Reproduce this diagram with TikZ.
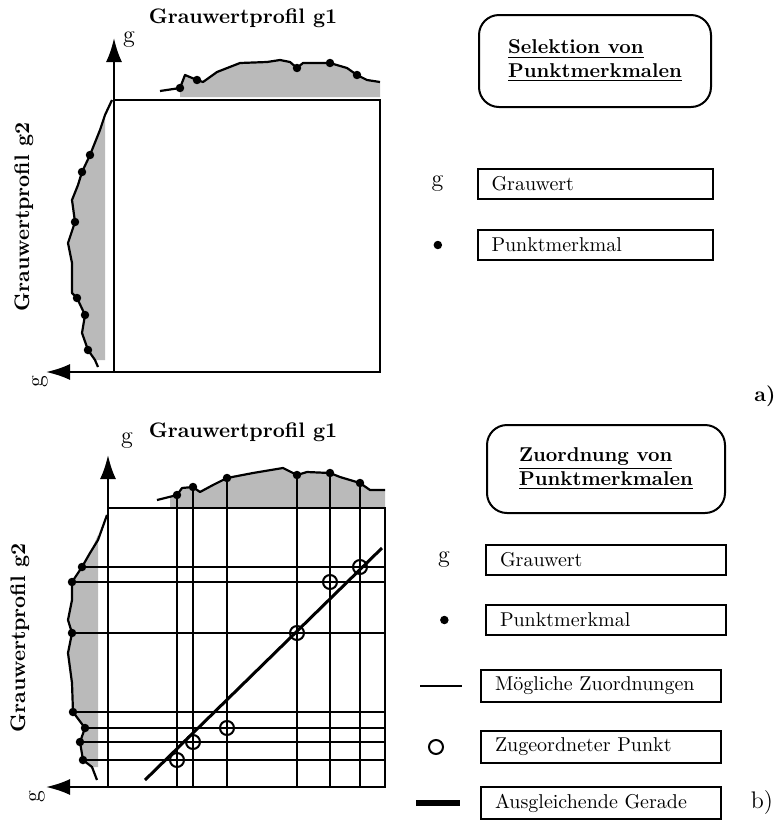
\documentclass[tikz,border=0pt]{standalone}
\usetikzlibrary{positioning,arrows.meta}
\newcommand{\grayAxes}{%%
  %% The frame and the two grey value axes.
  \draw[frameStyle] (origin) rectangle (corner);
  \draw[axisStyle] (origin) -- (yend);
  \draw[axisStyle] (origin -| corner) -- (xend);
}
%% Profile outlines, each starting with a line-to.
\newcommand{\topPathA}{-- (180,88) -- (185,75) -- (197,80) -- (203,82)
  -- (217,72) -- (240,63) -- (267,62) -- (280,60) -- (290,62) -- (297,68)
  -- (303,63) -- (330,63) -- (347,68) -- (357,75) -- (367,80) -- (380,82)}
\newcommand{\leftPathA}{-- (105,115) -- (100,130) -- (92,150) -- (90,155)
  -- (82,172) -- (78,185) -- (72,200) -- (75,222) -- (68,243) -- (72,263)
  -- (72,293) -- (77,298) -- (85,315) -- (82,333) -- (88,350) -- (95,360)}
\newcommand{\topPathB}{-- (t1) -- (182,488) -- (t2) -- (200,492) -- (213,485)
  -- (t3) -- (253,473) -- (283,468) -- (t4) -- (307,472) -- (t5) -- (340,477)
  -- (t6) -- (370,490) -- (385,490)}
\newcommand{\leftPathB}{-- (90,553) -- (l1) -- (l2) -- (72,600) -- (68,620)
  -- (l3) -- (68,653) -- (72,683) -- (l4) -- (l5) -- (l6) -- (l7) -- (92,767)}

\begin{document}
\begin{tikzpicture}[x=0.5pt,y=-0.5pt,%%
  axisStyle/.style={-{Latex[length=12pt,width=8pt]},line width=1.1pt},%%
  frameStyle/.style={line width=1.1pt},%%
  profileStyle/.style={line width=1.1pt,line join=round},%%
  shadeStyle/.style={fill=black!27},%%
  dotStyle/.style={circle,inner sep=1.5pt,fill=black},%%
  gridStyle/.style={line width=0.8pt},%%
  fitStyle/.style={line width=1.5pt},%%
  matchStyle/.style={circle,draw,line width=1pt,inner sep=0pt,minimum size=7pt},%%
  legendStyle/.style={draw,line width=1pt,text width=106pt,inner xsep=7pt,%%
    minimum height=15pt,align=left},%%
  titleStyle/.style={draw,line width=1pt,rounded corners=10pt,font=\bfseries,%%
    align=left,minimum width=116pt,minimum height=46pt},%%
  labelStyle/.style={font=\bfseries\fontsize{10.5}{12}\selectfont},%%
  axisLabelStyle/.style={font=\large}
]
\useasboundingbox (0,0) rectangle (780,826);
%%
%% a) Selection of point features.
\coordinate (origin) at (114,372);
\coordinate (corner) at (380,100);
\coordinate (yend) at (114,38);
\coordinate (xend) at (46,372);
\fill[shadeStyle] (180,97) -- (180,88) \topPathA -- (380,97) -- cycle;
\fill[shadeStyle] (105,115) \leftPathA -- (105,360) -- cycle;
\draw[profileStyle] (160,91) \topPathA;
\draw[profileStyle] (112,100) \leftPathA -- (98,367);
\grayAxes
\node[axisLabelStyle] (gyA) at (129,40) {g};
\node[axisLabelStyle,rotate=90] (gxA) at (40,382) {g};
\foreach \p [count=\i] in {{180,88},{197,80},{297,68},{330,63},{357,75},%%
  {90,155},{82,172},{75,222},{77,298},{85,315},{88,350}}
  \node[dotStyle] (dA\i) at (\p) {};
\node[labelStyle] (profA1) at (243,18) {Grauwertprofil g1};
\node[labelStyle,rotate=90] (profA2) at (24,217) {Grauwertprofil g2};
%%
\node[titleStyle] (selTitle) at (595,61)
  {\underline{Selektion von}\\\underline{Punktmerkmalen}};
\node[legendStyle,text width=103.5pt] (grauA) at (595,184) {Grauwert};
\node[legendStyle,text width=103.5pt] (punktA) at (595,245) {Punktmerkmal};
\node[axisLabelStyle,left=13pt of grauA] (gA) {g};
\node[dotStyle,left=17pt of punktA] (dotA) {};
\node[labelStyle] (partA) at (765,396) {a)};
%%
%% b) Matching of point features.
\coordinate (origin) at (108,787);
\coordinate (corner) at (385,508);
\coordinate (yend) at (108,455);
\coordinate (xend) at (46,787);
\foreach \n/\x/\y in {1/177/495,2/193/487,3/227/478,4/297/475,5/330/473,6/360/483}
  \coordinate (t\n) at (\x,\y);
\foreach \n/\x/\y in {1/82/567,2/72/582,3/72/633,4/73/712,5/85/728,6/80/742,7/83/760}
  \coordinate (l\n) at (\x,\y);
\fill[shadeStyle] (170,507) -- (170,497) \topPathB -- (385,507) -- cycle;
\fill[shadeStyle] (98,535) \leftPathB -- (98,767) -- cycle;
\draw[profileStyle] (157,500) \topPathB;
\draw[profileStyle] (107,515) -- (98,540) \leftPathB -- (97,780);
%% Possible matchings.
\foreach \n in {1,...,6}
  \draw[gridStyle] (t\n) -- (t\n |- origin);
\foreach \n in {1,...,7}
  \draw[gridStyle] (l\n) -- (l\n -| corner);
\grayAxes
\node[axisLabelStyle] (gyB) at (127,441) {g};
\node[axisLabelStyle,rotate=90] (gxB) at (37,797) {g};
\foreach \n in {1,...,6}
  \node[dotStyle] (dt\n) at (t\n) {};
\foreach \n in {1,...,7}
  \node[dotStyle] (dl\n) at (l\n) {};
%% Matched points and the fitted line.
\foreach \t/\l in {1/7,2/6,3/5,4/3,5/2,6/1}
  \node[matchStyle] (m\t) at (t\t |- l\l) {};
\coordinate (fitStart) at (145,780);
\coordinate (fitEnd) at (382,548);
\draw[fitStyle] (fitStart) -- (fitEnd);
\node[labelStyle] (profB1) at (243,432) {Grauwertprofil g1};
\node[labelStyle,rotate=90] (profB2) at (20,638) {Grauwertprofil g2};
%%
\node[titleStyle,minimum width=119pt,minimum height=44pt] (zuoTitle) at (606,469)
  {\underline{Zuordnung von}\\\underline{Punktmerkmalen}};
\node[legendStyle] (grauB) at (606,560) {Grauwert};
\node[legendStyle] (punktB) at (606,620) {Punktmerkmal};
\node[legendStyle] (moeglB) at (601,686) {Mögliche Zuordnungen};
\node[legendStyle] (zugeB) at (601,747) {Zugeordneter Punkt};
\node[legendStyle] (ausglB) at (601,803) {Ausgleichende Gerade};
\node[axisLabelStyle,left=14pt of grauB] (gB) {g};
\node[dotStyle,left=18pt of punktB] (dotB) {};
\coordinate (thinL) at ([xshift=-30pt]moeglB.west);
\coordinate (thinR) at ([xshift=-9pt]moeglB.west);
\draw[gridStyle] (thinL) -- (thinR);
\node[matchStyle,left=18pt of zugeB] (circB) {};
\coordinate (thickL) at ([xshift=-32pt]ausglB.west);
\coordinate (thickR) at ([xshift=-10pt]ausglB.west);
\draw[fitStyle,line width=2.6pt] (thickL) -- (thickR);
\node[font=\large] (partB) at (762,803) {b)};
\end{tikzpicture}
\end{document}
